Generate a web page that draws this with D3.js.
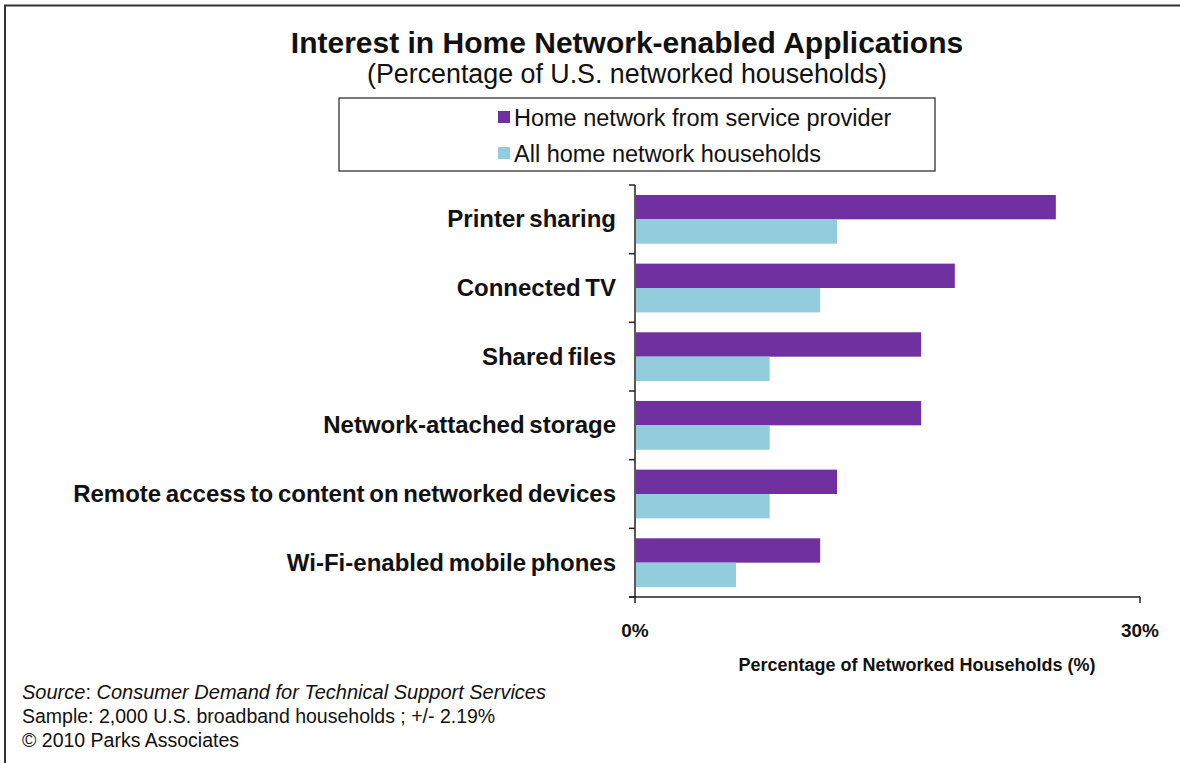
<!DOCTYPE html>
<html><head><meta charset="utf-8">
<script src="https://cdn.jsdelivr.net/npm/d3@7"></script>
<style>body{margin:0;background:#fff}svg{display:block}text{font-family:"Liberation Sans",Arial,sans-serif}</style>
</head><body><svg id="c" width="1180" height="763"></svg>
<script>
const categories = ["Printer sharing","Connected TV","Shared files","Network-attached storage","Remote access to content on networked devices","Wi-Fi-enabled mobile phones"];
const seriesNames = ["Home network from service provider","All home network households"];
const serviceProvider = [25,19,17,17,12,11];
const allHouseholds = [12,11,8,8,8,6];
const xTicks = [0,30];
const colors = ["#7030a0","#93cddd"];

const svg = d3.select("#c");
// frame
svg.append("path").attr("d","M5,763 V5.5 H1180").attr("fill","none").attr("stroke","#333").attr("stroke-width",2);

svg.append("text").attr("x",627).attr("y",53).attr("text-anchor","middle").attr("font-weight","bold").attr("font-size",30).attr("fill","#111").text("Interest in Home Network-enabled Applications");
svg.append("text").attr("x",627).attr("y",83).attr("text-anchor","middle").attr("font-size",26.8).attr("fill","#111").text("(Percentage of U.S. networked households)");

// legend
const lg = svg.append("g");
lg.append("rect").attr("x",339).attr("y",98).attr("width",596).attr("height",73).attr("fill","#fff").attr("stroke","#222").attr("stroke-width",1.2);
seriesNames.forEach((n,i)=>{
  const y = 118 + i*36;
  lg.append("rect").attr("x",498).attr("y",y-7).attr("width",12).attr("height",12).attr("fill",colors[i]);
  lg.append("text").attr("x",514).attr("y",y+7.5).attr("font-size",23.5).attr("fill","#111").text(n);
});

const x = d3.scaleLinear().domain([0,30]).range([635,1140]);
const y = d3.scaleBand().domain(categories).range([185,597]).paddingInner(0.29).paddingOuter(0.145);
const ys = d3.scaleBand().domain([0,1]).range([0,y.bandwidth()]);

const g = svg.append("g");
categories.forEach((c,i)=>{
  [serviceProvider[i], allHouseholds[i]].forEach((v,j)=>{
    g.append("rect").attr("x",x(0)+1).attr("y",y(c)+ys(j)).attr("width",x(v)-x(0)-1).attr("height",ys.bandwidth()).attr("fill",colors[j]);
  });
  svg.append("text").attr("x",616).attr("y",y(c)+y.bandwidth()/2+8).attr("text-anchor","end").attr("font-weight","bold").attr("font-size",24).attr("fill","#111").attr("word-spacing",-2).text(c);
});

// left axis: ticks at band boundaries
const step = y.step();
const bounds = d3.range(categories.length+1).map(i=>y.range()[0]+i*step);
svg.append("line").attr("x1",x(0)).attr("x2",x(0)).attr("y1",bounds[0]).attr("y2",bounds[bounds.length-1]).attr("stroke","#222").attr("stroke-width",1.5);
bounds.forEach(b=>svg.append("line").attr("x1",x(0)-6).attr("x2",x(0)).attr("y1",b).attr("y2",b).attr("stroke","#222").attr("stroke-width",1.5));
// bottom axis
svg.append("line").attr("x1",x(0)-6).attr("x2",x(30)).attr("y1",597).attr("y2",597).attr("stroke","#222").attr("stroke-width",1.5);
xTicks.forEach(t=>{
  svg.append("line").attr("x1",x(t)).attr("x2",x(t)).attr("y1",597).attr("y2",603).attr("stroke","#222").attr("stroke-width",1.5);
  svg.append("text").attr("x",x(t)).attr("y",637).attr("text-anchor","middle").attr("font-weight","bold").attr("font-size",19).attr("fill","#111").text(t+"%");
});
svg.append("text").attr("x",917).attr("y",671).attr("text-anchor","middle").attr("font-weight","bold").attr("font-size",18).attr("fill","#111").text("Percentage of Networked Households (%)");

// footnotes
const f1 = svg.append("text").attr("x",22).attr("y",699).attr("font-size",20).attr("fill","#111");
f1.append("tspan").attr("font-style","italic").text("Source");
f1.append("tspan").text(": ");
f1.append("tspan").attr("font-style","italic").text("Consumer Demand for Technical Support Services");
svg.append("text").attr("x",22).attr("y",723).attr("font-size",19.5).attr("fill","#111").text("Sample: 2,000 U.S. broadband households ; +/- 2.19%");
svg.append("text").attr("x",22).attr("y",747).attr("font-size",19.5).attr("fill","#111").text("© 2010 Parks Associates");
</script></body></html>
